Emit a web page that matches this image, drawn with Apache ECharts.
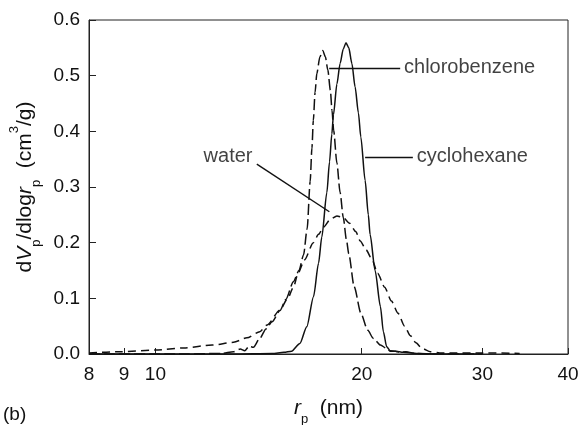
<!DOCTYPE html>
<html>
<head>
<meta charset="utf-8">
<script src="https://cdn.jsdelivr.net/npm/echarts@6/dist/echarts.min.js"></script>
<style>
html,body{margin:0;padding:0;background:#fff;}
#c{width:578px;height:425px;}
</style>
</head>
<body>
<div id="c"></div>
<script>
// ---- data (r_p in nm, dV/dlog r in cm3/g) ----
const xTicks = [8, 9, 10, 20, 30, 40];
const yTicks = [0, 0.1, 0.2, 0.3, 0.4, 0.5, 0.6];

const chloroR = [8, 11, 12.5, 13.0, 13.3, 13.5, 13.7, 13.9, 14.2, 14.5, 14.8, 15.2, 15.5, 15.9, 16.2, 16.45, 16.65, 16.82, 16.92, 17.0, 17.1, 17.2, 17.38, 17.55, 17.7, 17.85, 18.0, 18.1, 18.2, 18.4, 18.6, 18.8, 19.0, 19.15, 19.5, 19.95, 20.4, 20.8, 21.3, 21.75, 22.0, 22.4, 22.8, 23.2, 24, 25, 30];
const chloroV = [0, 0, 0.001, 0.004, 0.009, 0.006, 0.014, 0.012, 0.028, 0.045, 0.058, 0.078, 0.098, 0.13, 0.15, 0.178, 0.225, 0.31, 0.37, 0.42, 0.47, 0.504, 0.534, 0.545, 0.534, 0.51, 0.474, 0.438, 0.402, 0.343, 0.29, 0.245, 0.205, 0.18, 0.121, 0.073, 0.043, 0.028, 0.016, 0.01, 0.005, 0.005, 0.003, 0.004, 0.001, 0, 0];

const cycloR = [8, 13, 14.8, 15.4, 15.8, 16.25, 16.63, 17.01, 17.3, 17.49, 17.79, 17.95, 18.09, 18.19, 18.4, 18.6, 18.8, 18.97, 19.15, 19.35, 19.56, 19.78, 19.94, 20.23, 20.45, 20.57, 20.92, 21.3, 21.51, 21.75, 22.0, 22.4, 23.0, 24.3, 26, 30];
const cycloV = [0, 0, 0.001, 0.003, 0.005, 0.019, 0.049, 0.103, 0.163, 0.21, 0.29, 0.345, 0.395, 0.43, 0.485, 0.522, 0.548, 0.559, 0.55, 0.522, 0.48, 0.433, 0.39, 0.312, 0.25, 0.215, 0.15, 0.085, 0.04, 0.013, 0.006, 0.005, 0.003, 0.001, 0, 0];

const waterR = [8, 8.9, 10.0, 11, 12.1, 13.0, 13.6, 14.2, 14.55, 15.2, 15.6, 15.9, 16.15, 16.5, 17.0, 17.3, 17.6, 18.0, 18.4, 18.8, 19.2, 19.6, 19.9, 20.3, 20.7, 21.1, 21.6, 22.1, 22.6, 23.1, 23.55, 24.0, 24.5, 25.2, 26, 30, 34];
const waterV = [0.002, 0.004, 0.007, 0.011, 0.016, 0.021, 0.029, 0.04, 0.052, 0.079, 0.1, 0.12, 0.145, 0.169, 0.2, 0.215, 0.228, 0.242, 0.248, 0.245, 0.235, 0.22, 0.203, 0.187, 0.17, 0.145, 0.12, 0.095, 0.073, 0.05, 0.033, 0.02, 0.01, 0.004, 0.002, 0.002, 0.001];

// annotations: label text, label anchor (r, v), leader line from/to (r, v)
const annNames = ['chlorobenzene', 'cyclohexane', 'water'];
const annLabelPos = [[22.9, 0.514], [23.9, 0.354], [13.95, 0.354]];
const annLineFrom = [[17.93, 0.514], [20.23, 0.354], [14.06, 0.341]];
const annLineTo   = [[22.76, 0.514], [23.75, 0.354], [17.94, 0.2555]];

// ---- build ----
const L = Math.log10;
const toPts = (rs, vs) => rs.map((r, i) => [L(r), vs[i]]);
const FONT = '"Liberation Sans", Arial, Helvetica, sans-serif';
const INK = '#111';
const FS = 19;

const richTitle = {
  n: {fontFamily: FONT, fontSize: 21, color: INK, lineHeight: 35, verticalAlign: 'middle'},
  i: {fontFamily: FONT, fontSize: 21, fontStyle: 'italic', color: INK, lineHeight: 35, verticalAlign: 'middle'},
  s: {fontFamily: FONT, fontSize: 13, color: INK, lineHeight: 13, verticalAlign: 'bottom'},
  sup: {fontFamily: FONT, fontSize: 13, color: INK, lineHeight: 13, verticalAlign: 'top'}
};

const chart = echarts.init(document.getElementById('c'), null, {renderer: 'canvas'});

const lineSeries = (name, rs, vs, type, w) => ({
  name, type: 'line', data: toPts(rs, vs), showSymbol: false, symbol: 'none',
  smooth: 0.25, smoothMonotone: 'x',
  lineStyle: {color: INK, width: w, type: type},
  z: 3, silent: true
});

chart.setOption({
  animation: false,
  backgroundColor: '#fff',
  grid: {left: 89, right: 10, top: 20, bottom: 71, show: true, borderColor: '#222', borderWidth: 1,
    containLabel: false, outerBoundsMode: 'none'},
  xAxis: {
    type: 'value', min: L(8), max: L(40),
    axisLine: {show: true, lineStyle: {color: '#222', width: 1}},
    axisTick: {show: true, inside: true, length: 6, lineStyle: {color: '#222'}, customValues: xTicks.map(L)},
    axisLabel: {show: true, customValues: xTicks.map(L), margin: 11,
      formatter: v => String(Math.round(Math.pow(10, v))),
      fontFamily: FONT, fontSize: FS, color: INK},
    splitLine: {show: false},
    name: '{i|r}{s|p}{n|  (nm)}', nameLocation: 'middle', nameGap: 37,
    nameTextStyle: {fontFamily: FONT, fontSize: 21, color: INK, rich: richTitle}
  },
  yAxis: {
    type: 'value', min: 0, max: 0.6, interval: 0.1,
    axisLine: {show: true, lineStyle: {color: '#222', width: 1}},
    axisTick: {show: true, inside: true, length: 7, lineStyle: {color: '#222'}},
    axisLabel: {margin: 9, formatter: v => v.toFixed(1), fontFamily: FONT, fontSize: FS, color: INK},
    splitLine: {show: false},
    name: '{n|d}{i|V}{s|p}{n|/dlog}{i|r}{s|p}{n|  (cm}{sup|3}{n|/g)}',
    nameLocation: 'middle', nameGap: 40, nameRotate: 90,
    nameTextStyle: {fontFamily: FONT, fontSize: 21, color: INK, rich: richTitle}
  },
  series: [
    lineSeries('chlorobenzene', chloroR, chloroV, [11, 4], 1.5),
    lineSeries('water', waterR, waterV, [8, 5], 1.5),
    lineSeries('cyclohexane', cycloR, cycloV, 'solid', 1.5),
    {
      type: 'scatter', symbolSize: 0, silent: true, z: 5,
      data: annNames.map((n, i) => ({
        name: n, value: [L(annLabelPos[i][0]), annLabelPos[i][1]],
        label: {show: true, formatter: n, position: i === 2 ? 'left' : 'right', distance: 2,
          fontFamily: FONT, fontSize: 20, color: INK}
      })),
      markLine: {
        silent: true, symbol: ['none', 'none'], animation: false,
        lineStyle: {color: INK, width: 1.4, type: 'solid'},
        label: {show: false},
        data: annNames.map((n, i) => [
          {coord: [L(annLineFrom[i][0]), annLineFrom[i][1]]},
          {coord: [L(annLineTo[i][0]), annLineTo[i][1]]}
        ])
      }
    }
  ],
  graphic: [
    {type: 'text', left: 3, top: 405, style: {text: '(b)', fontFamily: FONT, fontSize: 19, fill: INK}}
  ]
});
</script>
</body>
</html>
